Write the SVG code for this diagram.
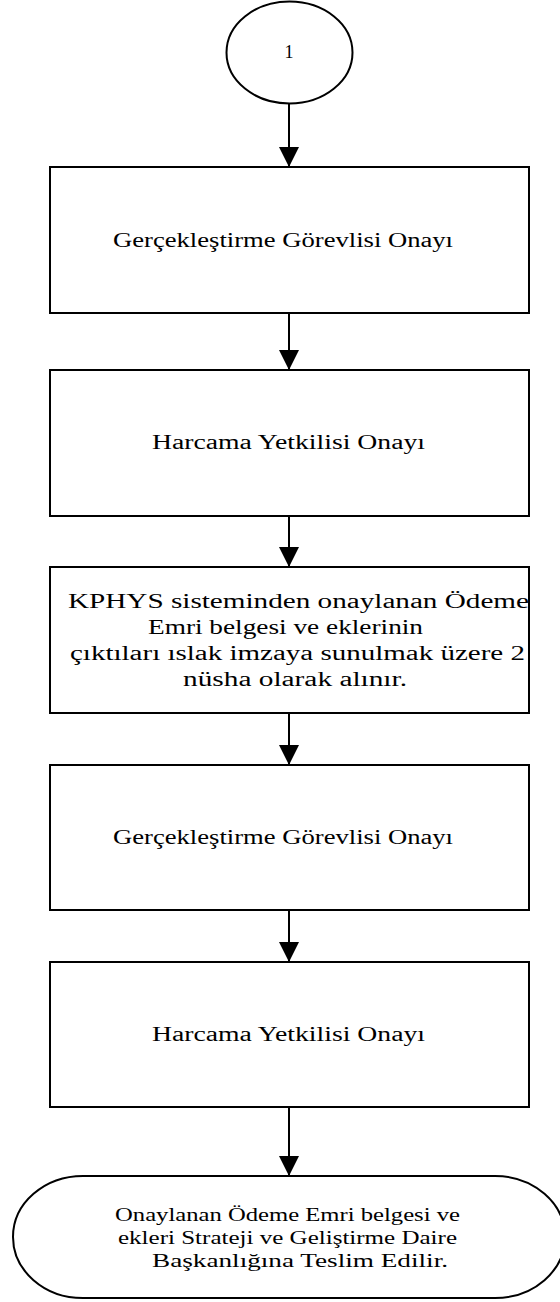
<svg xmlns="http://www.w3.org/2000/svg" width="560" height="1302" viewBox="0 0 560 1302">
<defs>
<style>
.n{fill:#fff;stroke:#000;stroke-width:2}
.t{font-family:"Liberation Serif","Times New Roman",serif;font-size:20px;fill:#000;text-anchor:middle}
.ts{font-family:"Liberation Serif","Times New Roman",serif;font-size:18px;fill:#000;text-anchor:middle}
.c{stroke:#000;stroke-width:2;fill:none;marker-end:url(#ah)}
</style>
<marker id="ah" markerUnits="userSpaceOnUse" markerWidth="20" markerHeight="20" refX="20" refY="10" orient="auto" viewBox="0 0 20 20">
<path d="M0,0 L20,10 L0,20 Z" fill="#000"/>
</marker>
</defs>
<rect width="560" height="1302" fill="#fff"/>
<g id="connectors">
<line class="c" x1="289" y1="104" x2="289" y2="167"/>
<line class="c" x1="289" y1="313" x2="289" y2="370"/>
<line class="c" x1="289" y1="516" x2="289" y2="567"/>
<line class="c" x1="289" y1="713" x2="289" y2="765"/>
<line class="c" x1="289" y1="910" x2="289" y2="962"/>
<line class="c" x1="289" y1="1107" x2="289" y2="1176"/>
</g>
<g id="start">
<ellipse class="n" cx="289.5" cy="52.5" rx="63" ry="51"/>
<text class="ts" x="289" y="58" font-size="16">1</text>
</g>
<g id="box1">
<rect class="n" x="50" y="167" width="479" height="146"/>
<text class="t" x="283" y="247" textLength="340" lengthAdjust="spacingAndGlyphs">Gerçekleştirme Görevlisi Onayı</text>
</g>
<g id="box2">
<rect class="n" x="50" y="370" width="479" height="146"/>
<text class="t" x="288.5" y="449" textLength="273" lengthAdjust="spacingAndGlyphs">Harcama Yetkilisi Onayı</text>
</g>
<g id="box3">
<rect class="n" x="50" y="567" width="479" height="146"/>
<text class="t" x="298.5" y="608" textLength="461" lengthAdjust="spacingAndGlyphs">KPHYS sisteminden onaylanan Ödeme</text>
<text class="t" x="285.5" y="634" textLength="275" lengthAdjust="spacingAndGlyphs">Emri belgesi ve eklerinin</text>
<text class="t" x="297.5" y="660" textLength="455" lengthAdjust="spacingAndGlyphs">çıktıları ıslak imzaya sunulmak üzere 2</text>
<text class="t" x="295" y="686" textLength="224" lengthAdjust="spacingAndGlyphs">nüsha olarak alınır.</text>
</g>
<g id="box4">
<rect class="n" x="50" y="765" width="479" height="145"/>
<text class="t" x="283" y="844" textLength="340" lengthAdjust="spacingAndGlyphs">Gerçekleştirme Görevlisi Onayı</text>
</g>
<g id="box5">
<rect class="n" x="50" y="962" width="479" height="145"/>
<text class="t" x="288.5" y="1041" textLength="273" lengthAdjust="spacingAndGlyphs">Harcama Yetkilisi Onayı</text>
</g>
<g id="end">
<rect class="n" x="13" y="1176" width="552" height="122" rx="70" ry="61"/>
<text class="ts" x="287.5" y="1221" textLength="345" lengthAdjust="spacingAndGlyphs">Onaylanan Ödeme Emri belgesi ve</text>
<text class="ts" x="287.5" y="1244" textLength="339" lengthAdjust="spacingAndGlyphs">ekleri Strateji ve Geliştirme Daire</text>
<text class="ts" x="300" y="1267" textLength="296" lengthAdjust="spacingAndGlyphs">Başkanlığına Teslim Edilir.</text>
</g>
</svg>
